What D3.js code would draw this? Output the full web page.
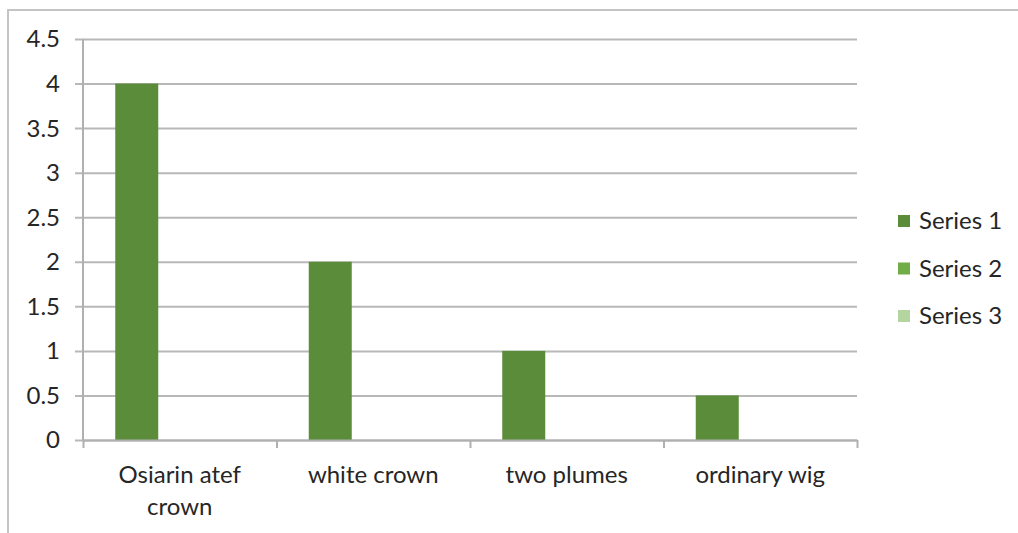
<!DOCTYPE html>
<html>
<head>
<meta charset="utf-8">
<script src="https://cdn.jsdelivr.net/npm/d3@7/dist/d3.min.js"></script>
<style>
  html, body { margin: 0; padding: 0; background: #fff; }
  svg { display: block; }
  text { font-family: Lato, "Open Sans", sans-serif; fill: #262626; }
</style>
</head>
<body>
<svg id="chart" width="1018" height="533"></svg>
<script>
// Chart data
const categories = [["Osiarin atef", "crown"], ["white crown"], ["two plumes"], ["ordinary wig"]];
const seriesNames = ["Series 1", "Series 2", "Series 3"];
const series1 = [4, 2, 1, 0.5];
const series2 = [0, 0, 0, 0];
const series3 = [0, 0, 0, 0];
const yTicks = [0, 0.5, 1, 1.5, 2, 2.5, 3, 3.5, 4, 4.5];

const seriesValues = [series1, series2, series3];
const colors = ["#5b8c3a", "#70ad47", "#b4d4a0"];

const svg = d3.select("#chart");
const W = 1018, H = 533;
const plot = { left: 83, right: 857, top: 39, bottom: 440 };

// Outer chart frame (only top and left edges fall inside the window)
svg.append("rect")
  .attr("x", 8).attr("y", 10)
  .attr("width", W + 20).attr("height", H + 20)
  .attr("fill", "none").attr("stroke", "#c4c4c4").attr("stroke-width", 2);

const catIdx = d3.range(categories.length);
const x0 = d3.scaleBand().domain(catIdx).range([plot.left, plot.right]);
// three bars per group; gap between groups is 50% of a bar width
const bw = x0.bandwidth();
const x1 = d3.scaleBand().domain(d3.range(seriesNames.length))
  .range([bw * 0.75 / 4.5, bw * 3.75 / 4.5]);
const y = d3.scaleLinear().domain([0, 4.5]).range([plot.bottom, plot.top]);

// Gridlines with left tick stubs
const gGrid = svg.append("g").attr("transform", `translate(${plot.right},0)`);
gGrid.call(d3.axisLeft(y).tickValues(yTicks).tickSize(plot.right - plot.left + 8).tickFormat(() => ""));
gGrid.select(".domain").remove();
gGrid.selectAll(".tick line").attr("stroke", "#b8b8b8").attr("stroke-width", 2);

// Y tick labels
svg.append("g").selectAll("text").data(yTicks).join("text")
  .attr("x", 60).attr("y", d => y(d))
  .attr("dy", "0.35em").attr("text-anchor", "end")
  .style("font-size", "24px")
  .text(d => d3.format("")(d));

// Bars
const groups = svg.append("g").selectAll("g").data(catIdx).join("g")
  .attr("transform", i => `translate(${x0(i)},0)`);
groups.selectAll("rect")
  .data(i => seriesValues.map((vals, s) => ({ s, v: vals[i] })))
  .join("rect")
  .attr("x", d => x1(d.s))
  .attr("width", x1.bandwidth())
  .attr("y", d => y(d.v))
  .attr("height", d => y(0) - y(d.v))
  .attr("fill", d => colors[d.s]);

// Y axis line
svg.append("line")
  .attr("x1", plot.left).attr("x2", plot.left)
  .attr("y1", plot.top).attr("y2", plot.bottom)
  .attr("stroke", "#b0b0b0").attr("stroke-width", 2);

// X axis with category tick marks at band boundaries
const xb = d3.scaleLinear().domain([0, categories.length]).range([plot.left, plot.right]);
const gx = svg.append("g").attr("transform", `translate(0,${plot.bottom})`);
gx.call(d3.axisBottom(xb).tickValues(d3.range(categories.length + 1)).tickSize(8).tickSizeOuter(0).tickFormat(() => ""));
gx.select(".domain").attr("stroke", "#b0b0b0").attr("stroke-width", 2);
gx.selectAll(".tick line").attr("stroke", "#b0b0b0").attr("stroke-width", 2);

// Category labels (wrapped lines)
svg.append("g").selectAll("text").data(catIdx).join("text")
  .attr("text-anchor", "middle")
  .style("font-size", "24px")
  .each(function (i) {
    const t = d3.select(this);
    categories[i].forEach((line, k) => {
      t.append("tspan")
        .attr("x", x0(i) + bw / 2)
        .attr("y", 483 + k * 32)
        .text(line);
    });
  });

// Legend
const legend = svg.append("g").selectAll("g").data(seriesNames).join("g")
  .attr("transform", (d, i) => `translate(898,${221 + i * 47.5})`);
legend.append("rect")
  .attr("x", 0).attr("y", -6).attr("width", 12).attr("height", 12)
  .attr("fill", (d, i) => colors[i]);
legend.append("text")
  .attr("x", 21).attr("y", 0).attr("dy", "0.35em")
  .style("font-size", "24px")
  .text(d => d);
</script>
</body>
</html>
